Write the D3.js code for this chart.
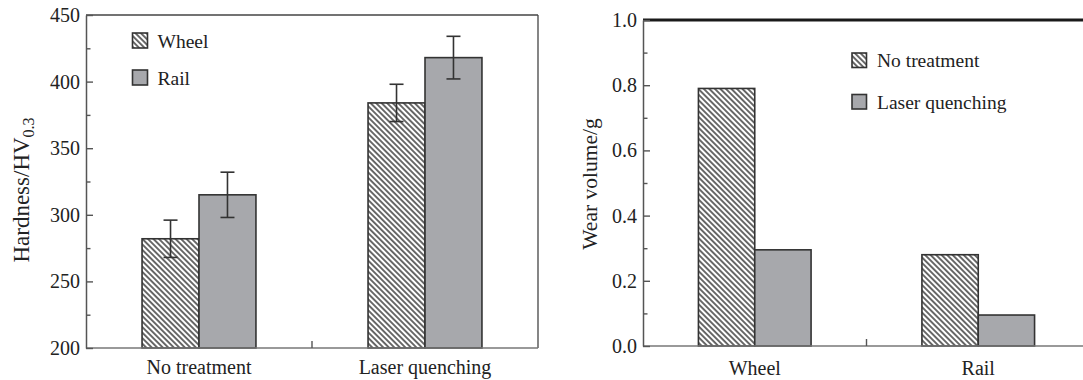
<!DOCTYPE html>
<html>
<head>
<meta charset="utf-8">
<script src="https://cdn.jsdelivr.net/npm/d3@7"></script>
<style>
  html, body { margin: 0; padding: 0; background: #fff; }
  svg { display: block; }
  text { font-family: "Liberation Serif", "Times New Roman", serif; fill: #222; }
</style>
</head>
<body>
<svg id="chart" width="1083" height="380"></svg>
<script>
// ---- Hardness panel ----
const hardnessGroups = ["No treatment", "Laser quenching"];
const hardnessSeries = ["Wheel", "Rail"];
const wheelHardness = [282, 384];
const railHardness = [315, 418];
const wheelHardnessErr = [14, 14];
const railHardnessErr = [17, 16];
const hardnessTicks = [200, 250, 300, 350, 400, 450];
const hardnessMinor = [225, 275, 325, 375, 425];

// ---- Wear panel ----
const wearGroups = ["Wheel", "Rail"];
const wearSeries = ["No treatment", "Laser quenching"];
const wearNoTreatment = [0.79, 0.28];
const wearLaser = [0.295, 0.095];
const wearTicks = [0.0, 0.2, 0.4, 0.6, 0.8, 1.0];
const wearMinor = [0.1, 0.3, 0.5, 0.7, 0.9];

const svg = d3.select("#chart");
const GRAY = "#a7a8ac";
const EDGE = "#333";

// diagonal hatch used for the first series of each panel
const defs = svg.append("defs");
const hatchSize = 3.9;
const pat = defs.append("pattern")
  .attr("id", "hatch")
  .attr("patternUnits", "userSpaceOnUse")
  .attr("width", hatchSize).attr("height", hatchSize)
  .attr("patternTransform", "rotate(-45)");
pat.append("rect").attr("width", hatchSize).attr("height", hatchSize).attr("fill", "#fff");
pat.append("line")
  .attr("x1", hatchSize / 2).attr("y1", -1)
  .attr("x2", hatchSize / 2).attr("y2", hatchSize + 1)
  .attr("stroke", "#222").attr("stroke-width", 1.35);

const fills = ["url(#hatch)", GRAY];

function drawPanel(cfg) {
  const g = svg.append("g");
  const x = d3.scaleBand().domain(cfg.groups).range(cfg.xRange).padding(0);
  const bw = x.bandwidth();
  const xs = d3.scaleBand().domain(cfg.series).range([bw * 0.248, bw * 0.752]).padding(0);
  const y = d3.scaleLinear().domain(cfg.yDomain).range(cfg.yRange);

  const [left, right] = cfg.xRange;
  const [bottom, top] = cfg.yRange;

  // frame lines (top / right)
  if (cfg.topLine) {
    g.append("line")
      .attr("x1", left).attr("x2", cfg.topLine.x2)
      .attr("y1", top).attr("y2", top)
      .attr("stroke", cfg.topLine.color).attr("stroke-width", cfg.topLine.width);
  }
  if (cfg.rightLine) {
    g.append("line")
      .attr("x1", right).attr("x2", right)
      .attr("y1", top).attr("y2", bottom)
      .attr("stroke", "#444").attr("stroke-width", 1.3);
  }

  // bars
  cfg.values.forEach((vals, si) => {
    g.append("g").selectAll("rect")
      .data(vals)
      .join("rect")
      .attr("x", (d, i) => x(cfg.groups[i]) + xs(cfg.series[si]))
      .attr("y", d => y(d))
      .attr("width", xs.bandwidth())
      .attr("height", d => y(cfg.yDomain[0]) - y(d))
      .attr("fill", fills[si])
      .attr("stroke", EDGE)
      .attr("stroke-width", 1.6);
  });

  // error bars
  if (cfg.errors) {
    cfg.values.forEach((vals, si) => {
      vals.forEach((v, i) => {
        const e = cfg.errors[si][i];
        const cx = x(cfg.groups[i]) + xs(cfg.series[si]) + xs.bandwidth() / 2;
        const eg = g.append("g").attr("stroke", "#333").attr("stroke-width", 1.6);
        eg.append("line").attr("x1", cx).attr("x2", cx).attr("y1", y(v + e)).attr("y2", y(v - e));
        eg.append("line").attr("x1", cx - 7).attr("x2", cx + 7).attr("y1", y(v + e)).attr("y2", y(v + e));
        eg.append("line").attr("x1", cx - 7).attr("x2", cx + 7).attr("y1", y(v - e)).attr("y2", y(v - e));
      });
    });
  }

  // bottom axis line and the group separator tick
  g.append("line")
    .attr("x1", left).attr("x2", cfg.bottomX2)
    .attr("y1", bottom).attr("y2", bottom)
    .attr("stroke", "#777").attr("stroke-width", 1.6);
  cfg.groups.slice(1).forEach(gr => {
    g.append("line")
      .attr("x1", x(gr)).attr("x2", x(gr))
      .attr("y1", bottom).attr("y2", bottom - 7)
      .attr("stroke", "#555").attr("stroke-width", 1.4);
  });

  // category labels
  g.append("g").selectAll("text")
    .data(cfg.groups)
    .join("text")
    .attr("x", d => x(d) + bw / 2)
    .attr("y", bottom + cfg.labelDy)
    .attr("text-anchor", "middle")
    .attr("font-size", 20)
    .text(d => d);

  // minor ticks
  const minorAxis = d3.axisLeft(y).tickValues(cfg.minor).tickSizeInner(-4.5).tickSizeOuter(0).tickFormat("");
  const ma = g.append("g").attr("transform", `translate(${left},0)`).call(minorAxis);
  ma.select(".domain").remove();
  ma.selectAll(".tick line").attr("stroke", "#555").attr("stroke-width", 1.4);

  // major ticks and labels
  const axis = d3.axisLeft(y).tickValues(cfg.ticks).tickSizeInner(-7).tickSizeOuter(0)
    .tickPadding(6).tickFormat(cfg.fmt);
  const ax = g.append("g").attr("transform", `translate(${left},0)`).call(axis);
  ax.select(".domain").attr("stroke", "#555").attr("stroke-width", 1.5);
  ax.selectAll(".tick line").attr("stroke", "#555").attr("stroke-width", 1.4);
  ax.selectAll(".tick text")
    .attr("font-size", 20)
    .attr("font-family", "Liberation Serif, Times New Roman, serif")
    .attr("fill", "#222");

  // legend
  const lg = g.append("g").attr("transform", `translate(${cfg.legend.x},${cfg.legend.y})`);
  cfg.series.forEach((s, i) => {
    const row = lg.append("g").attr("transform", `translate(0,${i * cfg.legend.gap})`);
    row.append("rect")
      .attr("width", cfg.legend.box).attr("height", cfg.legend.box)
      .attr("fill", fills[i]).attr("stroke", EDGE).attr("stroke-width", 1.6);
    row.append("text")
      .attr("x", cfg.legend.textDx)
      .attr("y", cfg.legend.box - 0.5)
      .attr("font-size", 19.5)
      .text(s);
  });

  return { x, y, g };
}

// ---- left panel: hardness ----
drawPanel({
  groups: hardnessGroups,
  series: hardnessSeries,
  values: [wheelHardness, railHardness],
  errors: [wheelHardnessErr, railHardnessErr],
  xRange: [86, 538],
  yRange: [348, 15],
  yDomain: [200, 450],
  ticks: hardnessTicks,
  minor: hardnessMinor,
  fmt: d3.format("d"),
  topLine: { x2: 538, color: "#444", width: 1.3 },
  rightLine: true,
  bottomX2: 538,
  labelDy: 26,
  legend: { x: 132.5, y: 33, gap: 37, box: 15, textDx: 25 }
});

// y title with subscript
const ht = svg.append("text")
  .attr("transform", "translate(29,190) rotate(-90)")
  .attr("text-anchor", "middle")
  .attr("font-size", 23);
ht.append("tspan").text("Hardness/HV");
ht.append("tspan").attr("font-size", 16).attr("dy", 5).text("0.3");

// ---- right panel: wear ----
drawPanel({
  groups: wearGroups,
  series: wearSeries,
  values: [wearNoTreatment, wearLaser],
  errors: null,
  xRange: [643, 1090],
  yRange: [346, 20],
  yDomain: [0, 1],
  ticks: wearTicks,
  minor: wearMinor,
  fmt: d3.format(".1f"),
  topLine: { x2: 1090, color: "#1a1a1a", width: 3.2 },
  rightLine: false,
  bottomX2: 1090,
  labelDy: 29,
  legend: { x: 852, y: 53, gap: 41.5, box: 14.5, textDx: 25 }
});

svg.append("text")
  .attr("transform", "translate(597,184) rotate(-90)")
  .attr("text-anchor", "middle")
  .attr("font-size", 21.5)
  .text("Wear volume/g");
</script>
</body>
</html>
